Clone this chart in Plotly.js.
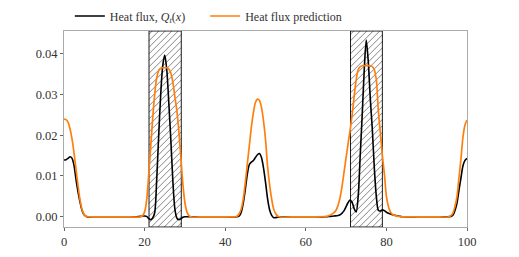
<!DOCTYPE html>
<html>
<head>
<meta charset="utf-8">
<script src="https://cdn.plot.ly/plotly-3.0.1.min.js"></script>
<style>
html,body{margin:0;padding:0;background:#fff;}
#chart{width:519px;height:257px;}
#chart text{font-family:'Liberation Serif',serif !important;}
</style>
</head>
<body>
<div id="chart"></div>
<script>
// Heat flux (black) samples: x, value
const fluxX = [0,0.5,1,1.5,2,2.5,3,3.5,4,4.5,5,5.5,6,7,10,15,18,19,19.5,20,20.5,21,21.5,22,22.5,23,23.5,24,24.5,25,25.5,26,26.5,27,27.5,28,28.5,29,29.5,30,31,35,40,43,43.5,44,44.5,45,45.5,46,46.5,47,47.5,48,48.5,49,49.5,50,50.5,51,51.5,52,52.5,53,54,58,62,65,66,67,68,68.5,69,69.5,70,70.5,71,71.5,72,72.5,73,73.5,74,74.5,75,75.5,76,76.5,77,77.5,78,78.5,79,79.5,80,81,82,83,84,88,92,95,96,96.5,97,97.5,98,98.5,99,99.5,100];
const fluxY = [0.0139,0.0140,0.0143,0.0147,0.0143,0.0125,0.0090,0.0060,0.0035,0.0015,0.0005,0.0001,-0.0001,0,0,0,0,0.0001,0.0002,0.0002,0.0001,-0.0004,-0.0007,-0.0003,0.0010,0.0090,0.0200,0.0300,0.0370,0.0396,0.0360,0.0280,0.0190,0.0090,0.0020,-0.0003,-0.0007,-0.0005,-0.0001,0,0,0,0,0,0.0002,0.0012,0.0035,0.0068,0.0105,0.0128,0.0134,0.0138,0.0145,0.0152,0.0155,0.0145,0.0120,0.0085,0.0045,0.0018,0.0004,-0.0002,-0.0002,-0.0001,0,0,0,0,0.0001,0.0002,0.0003,0.0005,0.0009,0.0015,0.0025,0.0035,0.0041,0.0035,0.0020,0.0012,0.0050,0.0150,0.0250,0.0360,0.0433,0.0380,0.0290,0.0215,0.0120,0.0050,0.0016,0.0014,0.0017,0.0015,0.0011,0.0007,0.0004,0.0002,0,0,0,0,0.0001,0.0004,0.0015,0.0033,0.0065,0.0095,0.0125,0.0138,0.0143];

// Heat flux prediction (orange) samples
const predX = [0,0.5,1,1.5,2,2.5,3,3.5,4,4.5,5,5.5,6,10,15,19,19.5,20,20.5,21,21.5,22,22.5,23,23.5,24,24.5,25,25.5,26,26.5,27,27.5,28,28.5,29,29.5,30,30.5,31,31.5,35,40,42.5,43,43.5,44,44.5,45,45.5,46,46.5,47,47.5,48,48.5,49,49.5,50,50.5,51,51.5,52,52.5,53,53.5,58,62,65,66,67,67.5,68,68.5,69,69.5,70,70.5,71,71.5,72,72.5,73,73.5,74,75,76,76.5,77,77.5,78,78.5,79,79.5,80,80.5,81,81.5,82,83,84,88,92,95.5,96,96.5,97,97.5,98,98.5,99,99.5,100];
const predY = [0.0239,0.0238,0.0232,0.0215,0.0190,0.0155,0.0115,0.0075,0.0040,0.0017,0.0005,0.0001,0,0,0,0,0.0003,0.0012,0.0040,0.0100,0.0170,0.0240,0.0300,0.0340,0.0358,0.0364,0.0365,0.0365,0.0365,0.0362,0.0352,0.0330,0.0295,0.0260,0.0210,0.0145,0.0080,0.0035,0.0012,0.0003,0,0,0,0,0.0002,0.0008,0.0020,0.0045,0.0085,0.0130,0.0175,0.0220,0.0255,0.0280,0.0288,0.0285,0.0268,0.0235,0.0190,0.0125,0.0080,0.0045,0.0020,0.0008,0.0002,0,0,0,0.0001,0.0004,0.0010,0.0016,0.0028,0.0047,0.0075,0.0110,0.0145,0.0180,0.0212,0.0250,0.0295,0.0335,0.0360,0.0368,0.0370,0.0370,0.0370,0.0368,0.0360,0.0335,0.0260,0.0205,0.0150,0.0105,0.0050,0.0025,0.0012,0.0006,0.0003,0.0001,0,0,0,0,0.0003,0.0009,0.0025,0.0049,0.0095,0.0142,0.0195,0.0225,0.0237];

// Hatched regions: start and end along x
const regionStart = [21.1, 71.1];
const regionEnd = [29.1, 79.0];

// Tick labels
const xTicks = [0, 20, 40, 60, 80, 100];
const xTickText = ['0', '20', '40', '60', '80', '100'];
const yTicks = [0, 0.01, 0.02, 0.03, 0.04];
const yTickText = ['0.00', '0.01', '0.02', '0.03', '0.04'];

const xMin = 0, xMax = 100, yMin = -0.0025, yMax = 0.0455;
const W = 519, H = 257, M = {l: 64, r: 52, t: 31, b: 30, autoexpand: false};
const kx = (W - M.l - M.r) / (xMax - xMin);   // px per x unit
const ky = (H - M.t - M.b) / (yMax - yMin);   // px per y unit

// Build hatch shapes ('/' lines at 45 degrees in pixel space) inside each region
const shapes = [];
const step = 6.5;
for (let r = 0; r < regionStart.length; r++) {
  const x0 = regionStart[r], x1 = regionEnd[r];
  const pw = (x1 - x0) * kx, ph = (yMax - yMin) * ky;
  for (let c = -ph + step / 2; c < pw; c += step) {
    const v0 = Math.max(0, -c), v1 = Math.min(ph, pw - c);
    if (v1 <= v0) continue;
    shapes.push({type: 'line', xref: 'x', yref: 'y', layer: 'below',
      x0: x0 + (v0 + c) / kx, y0: yMin + v0 / ky, x1: x0 + (v1 + c) / kx, y1: yMin + v1 / ky,
      line: {color: '#333', width: 0.6}});
  }
  shapes.push({type: 'rect', xref: 'x', yref: 'y', layer: 'below', x0: x0, x1: x1, y0: yMin, y1: yMax,
    line: {color: 'black', width: 0.9}});
}

const traces = [
  {
    type: 'scatter', mode: 'lines', x: fluxX, y: fluxY,
    name: 'Heat flux, <i>Q</i><sub><i>t</i></sub>(<i>x</i>)&nbsp;&nbsp;&nbsp;&nbsp;&nbsp;',
    line: {color: 'black', width: 1.6, shape: 'spline', smoothing: 0.8}
  },
  {
    type: 'scatter', mode: 'lines', x: predX, y: predY,
    name: 'Heat flux prediction',
    line: {color: '#ff7f0e', width: 1.7, shape: 'spline', smoothing: 0.8}
  }
];

const layout = {
  width: W, height: H,
  margin: M,
  font: {family: 'Liberation Serif', size: 12, color: '#333'},
  legend: {orientation: 'h', x: 0.0145, y: 1.0765, yanchor: 'middle', bgcolor: 'rgba(0,0,0,0)'},
  xaxis: {range: [xMin, xMax], tickvals: xTicks, ticktext: xTickText,
          showgrid: false, zeroline: false, showline: true, mirror: true, linecolor: '#aaaaaa', linewidth: 1,
          ticks: 'outside', ticklen: 3, tickcolor: '#666',
          tickfont: {family: 'Liberation Serif', size: 12.5}},
  yaxis: {range: [yMin, yMax], tickvals: yTicks, ticktext: yTickText,
          showgrid: false, zeroline: false, showline: true, mirror: true, linecolor: '#aaaaaa', linewidth: 1,
          ticks: 'outside', ticklen: 3, tickcolor: '#666',
          tickfont: {family: 'Liberation Serif', size: 12.5}},
  shapes: shapes
};

Plotly.newPlot('chart', traces, layout, {displayModeBar: false, staticPlot: true});
</script>
</body>
</html>
